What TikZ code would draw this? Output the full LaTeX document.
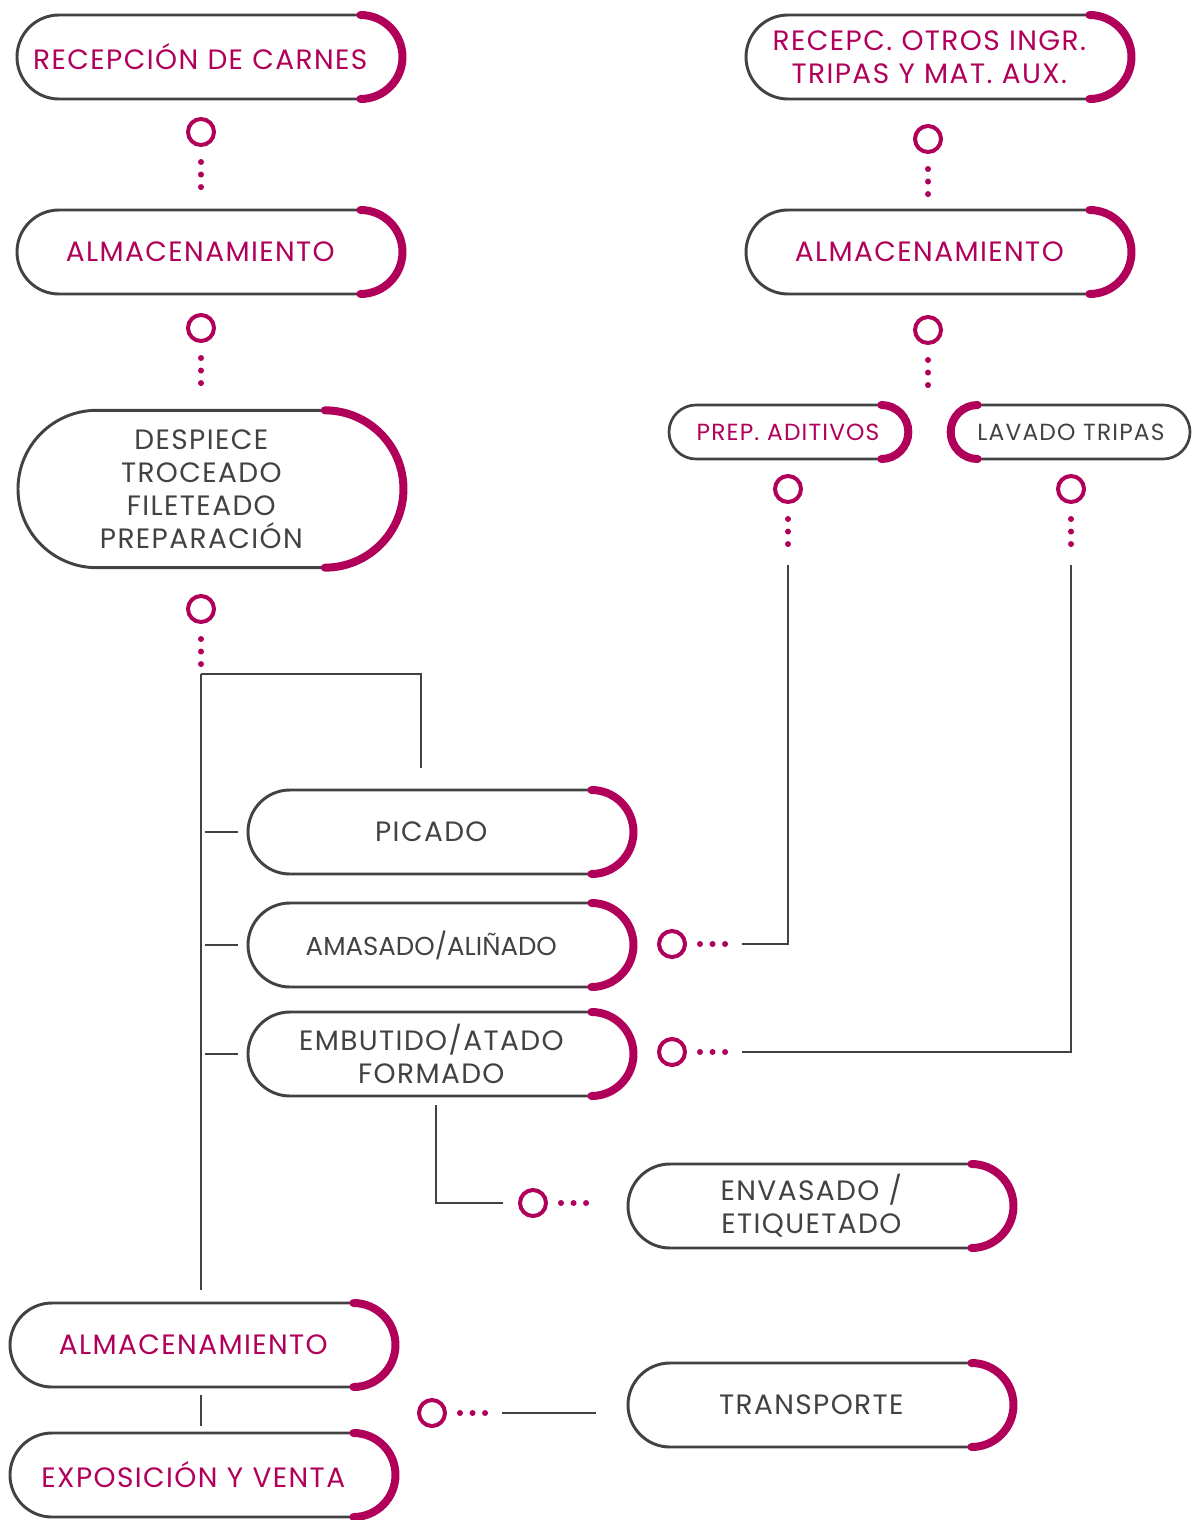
\documentclass[tikz,border=0pt]{standalone}
\usepackage{fontspec}
\setmainfont{Poppins}[LetterSpace=5]
\newfontfamily\tightfont{Poppins}
\usepackage{tikz}
\usetikzlibrary{positioning, calc}
\definecolor{accent}{HTML}{B0005A}
\definecolor{ink}{HTML}{424242}

% magenta caps on the round ends of a pill
\newcommand{\capright}[2]{\draw[endcap] ([xshift=-#2,yshift=#2]#1.east) arc[start angle=90,end angle=-90,radius=#2];}
\newcommand{\capleft}[2]{\draw[endcap] ([xshift=#2,yshift=#2]#1.west) arc[start angle=90,end angle=270,radius=#2];}

\begin{document}
\begin{tikzpicture}[x=0.75pt,y=-0.75pt]
	\tikzstyle{pill}=[rectangle,rounded corners=31.5pt,draw=ink,line width=2.2pt,inner sep=0pt,minimum width=288pt,minimum height=63pt,text width=280pt,text=ink,font=\fontsize{21}{24.75}\selectfont,execute at begin node={\centering\rightskip=13pt plus 1fil}]
	\tikzstyle{tall-pill}=[pill,rounded corners=59pt,minimum height=118pt]
	\tikzstyle{small-pill}=[pill,rounded corners=20.25pt,line width=2pt,minimum width=178.5pt,minimum height=40.5pt,text width=172pt,font=\fontsize{17.5}{20}\selectfont,execute at begin node={\centering}]
	\tikzstyle{hot}=[text=accent]
	\tikzstyle{endcap}=[draw=accent,line width=6pt,line cap=round]
	\tikzstyle{ring}=[circle,draw=accent,line width=3pt,minimum size=19.5pt,inner sep=0pt]
	\tikzstyle{dots}=[draw=accent,line width=4.5pt,line cap=round,dash pattern=on 0pt off 9.4pt]
	\tikzstyle{link}=[draw=ink,line width=1.1pt]
	\useasboundingbox (0,0) rectangle (1195,1520);

	% left column
	\node[pill,hot] 	(recep)	at (209,57)	{RECEPCIÓN DE CARNES};
	\node[ring] 	(r1)	at (201,132)	{};
	\node[pill,hot] 	(alm1)	at (209,252)	{ALMACENAMIENTO};
	\node[ring] 	(r2)	at (201,328)	{};
	\node[tall-pill] 	(desp)	at (210,489)	{DESPIECE\\TROCEADO\\FILETEADO\\PREPARACIÓN};
	\node[ring] 	(r3)	at (201,609)	{};

	% process steps
	\node[pill] 	(picado)	at (440,832)	{PICADO};
	\node[pill,font=\tightfont\fontsize{19.5}{24}\selectfont] 	(amasado)	at (440,945)	{AMASADO/ALIÑADO};
	\node[pill] 	(embutido)	at (440,1054)	{EMBUTIDO/ATADO\\FORMADO};
	\node[ring] 	(r-ama)	at (672,944)	{};
	\node[ring] 	(r-emb)	at (672,1052)	{};
	\node[ring] 	(r-env)	at (533,1203)	{};
	\node[pill] 	(envasado)	at (820,1206)	{ENVASADO /\\ETIQUETADO};

	% storage and sale
	\node[pill,hot] 	(alm3)	at (202,1345)	{ALMACENAMIENTO};
	\node[pill,hot] 	(expo)	at (202,1475)	{EXPOSICIÓN Y VENTA};
	\node[ring] 	(r-tra)	at (432,1413)	{};
	\node[pill] 	(transp)	at (820,1405)	{TRANSPORTE};

	% right column
	\node[pill,hot] 	(otros)	at (938,57)	{RECEPC. OTROS INGR.\\TRIPAS Y MAT. AUX.};
	\node[ring] 	(r4)	at (928,139)	{};
	\node[pill,hot] 	(alm2)	at (938,252)	{ALMACENAMIENTO};
	\node[ring] 	(r5)	at (928,330)	{};
	\node[small-pill,hot] 	(aditivos)	at (788,432)	{PREP. ADITIVOS};
	\node[ring] 	(r6)	at (788,489)	{};
	\node[small-pill] 	(tripas)	at (1071,432)	{LAVADO TRIPAS};
	\node[ring] 	(r7)	at (1071,489)	{};

	% caps
	\capright{recep}{31.5pt}
	\capright{alm1}{31.5pt}
	\capright{desp}{59pt}
	\capright{picado}{31.5pt}
	\capright{amasado}{31.5pt}
	\capright{embutido}{31.5pt}
	\capright{envasado}{31.5pt}
	\capright{alm3}{31.5pt}
	\capright{expo}{31.5pt}
	\capright{transp}{31.5pt}
	\capright{otros}{31.5pt}
	\capright{alm2}{31.5pt}
	\capright{aditivos}{20.25pt}
	\capleft{tripas}{20.25pt}

	% dotted tails
	\draw[dots] ($(r1.south)+(0,15)$) -- ++(0,26);
	\draw[dots] ($(r2.south)+(0,15)$) -- ++(0,26);
	\draw[dots] ($(r3.south)+(0,15)$) -- ++(0,26);
	\draw[dots] ($(r4.south)+(0,15)$) -- ++(0,26);
	\draw[dots] ($(r5.south)+(0,15)$) -- ++(0,26);
	\draw[dots] ($(r6.south)+(0,15)$) -- ++(0,26);
	\draw[dots] ($(r7.south)+(0,15)$) -- ++(0,26);
	\draw[dots] ($(r-ama.east)+(13,0)$) -- ++(26,0);
	\draw[dots] ($(r-emb.east)+(13,0)$) -- ++(26,0);
	\draw[dots] ($(r-env.east)+(13,0)$) -- ++(26,0);
	\draw[dots] ($(r-tra.east)+(13,0)$) -- ++(26,0);

	% lines
	\coordinate (split) at (201,674);
	\coordinate (picin) at (421,768);
	\coordinate (spine) at (201,1290);
	\draw[link] (split) -| (picin);
	\draw[link] (split) -- (spine);
	\draw[link] ($(picado.west)+(-9,0)$) -- ++(-33,0);
	\draw[link] ($(amasado.west)+(-9,0)$) -- ++(-33,0);
	\draw[link] ($(embutido.west)+(-9,0)$) -- ++(-33,0);
	\draw[link] ($(r-ama.east)+(55,0)$) -| ($(r6.south)+(0,61)$);
	\draw[link] ($(r-emb.east)+(55,0)$) -| ($(r7.south)+(0,61)$);
	\draw[link] ($(embutido.south)+(-4,8)$) |- ($(r-env.west)+(-15,0)$);
	\draw[link] ($(alm3.south)+(-1,7)$) -- ($(expo.north)+(-1,-6)$);
	\draw[link] ($(r-tra.east)+(55,0)$) -- ($(r-tra.east -| transp.west)+(-31,0)$);
\end{tikzpicture}
\end{document}
